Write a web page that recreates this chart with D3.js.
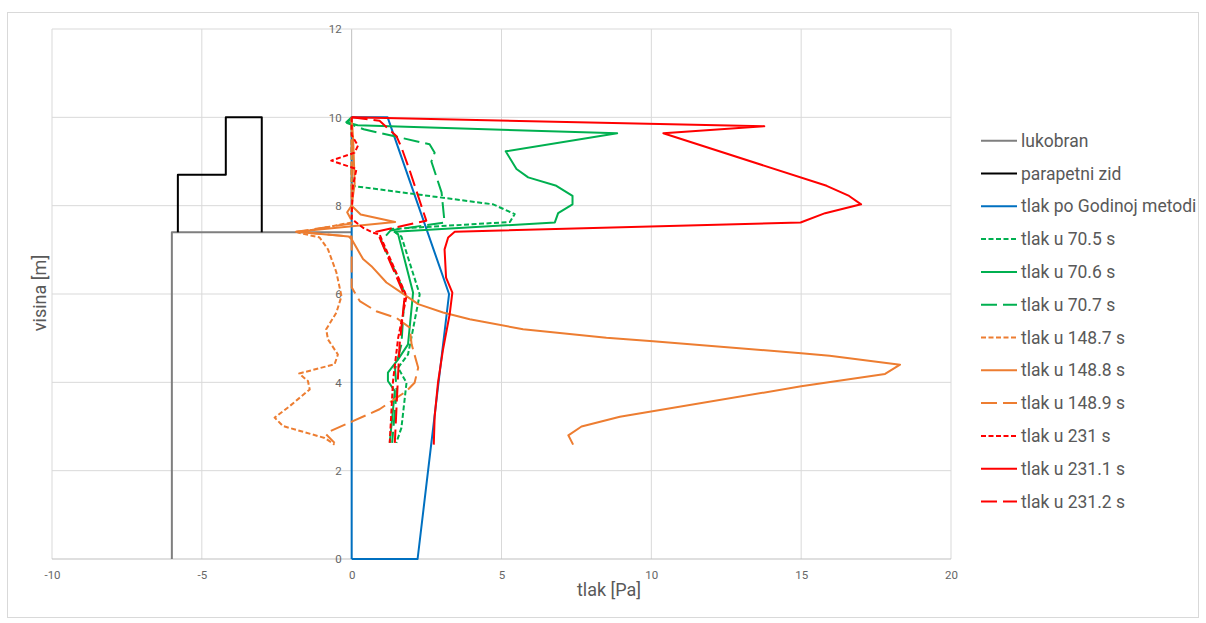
<!DOCTYPE html>
<html>
<head>
<meta charset="utf-8">
<script src="https://cdn.jsdelivr.net/npm/d3@7"></script>
<style>
  body { margin: 0; background: #fff; }
  svg { font-family: Roboto, "Open Sans", sans-serif; }
</style>
</head>
<body>
<svg width="1206" height="623"></svg>
<script>
// values: [tlak, visina]
var lukobran = [[-6, 0], [-6, 7.4], [0, 7.4]];
var parapetniZid = [[-5.8, 7.4], [-5.8, 8.7], [-4.2, 8.7], [-4.2, 10], [-3, 10], [-3, 7.4]];
var godin = [[0, 0], [2.2, 0], [3.25, 6], [1.2, 10], [0, 10], [0, 0]];

var t70_5 = [[0, 10], [0, 8.45], [4.72, 8.03], [5.44, 7.81], [5.28, 7.63], [1.3, 7.47], [1.66, 7.3],
  [2.27, 5.99], [1.99, 5.0], [1.88, 4.63], [1.55, 4.33], [1.83, 3.99], [1.66, 2.97], [1.49, 2.63]];
var t70_6 = [[0, 10], [-0.18, 9.89], [0.2, 9.82], [8.86, 9.64], [5.14, 9.23], [5.5, 8.83], [5.89, 8.64],
  [6.83, 8.45], [7.37, 8.22], [7.37, 8.03], [6.89, 7.83], [6.78, 7.62], [1.44, 7.41], [1.55, 7.35],
  [2.05, 6.03], [1.88, 4.86], [1.55, 4.52], [1.21, 4.22], [1.21, 4.03], [1.44, 3.8], [1.27, 2.63]];
var t70_7 = [[0, 10], [-0.15, 9.87], [0.4, 9.73], [2.6, 9.39], [2.77, 9.2], [2.66, 9.0], [3.0, 8.3],
  [3.1, 7.62], [1.3, 7.44], [0.99, 7.2], [1.77, 6.03], [1.66, 4.86], [1.45, 4.3], [1.5, 3.8], [1.35, 2.63]];

var t148_7 = [[0, 10], [0, 7.62], [-1.79, 7.39], [-1.07, 7.28], [-0.79, 7.01], [-0.51, 6.49], [-0.34, 5.95],
  [-0.51, 5.58], [-0.85, 5.2], [-0.79, 4.97], [-0.46, 4.63], [-0.57, 4.41], [-1.75, 4.2], [-1.46, 4.03],
  [-1.4, 3.84], [-2.07, 3.46], [-2.57, 3.2], [-2.29, 3.01], [-0.9, 2.74], [-0.57, 2.59]];
var t148_8 = [[0, 10], [0.05, 9.5], [0.1, 8.5], [0, 8.0], [0.3, 7.8], [1.45, 7.63], [0.1, 7.54],
  [-1.85, 7.41], [-0.1, 7.3], [0, 7.24], [0.38, 6.79], [0.66, 6.63], [1.16, 6.26], [1.66, 6.03],
  [2.22, 5.77], [3.05, 5.58], [3.94, 5.43], [5.72, 5.2], [8.5, 5.01], [10.06, 4.93], [15.0, 4.66],
  [15.95, 4.6], [18.3, 4.4], [17.8, 4.19], [15.0, 3.91], [8.95, 3.22], [7.67, 3.0], [7.23, 2.8], [7.39, 2.59]];
var t148_9 = [[0, 10], [0, 8.0], [-0.15, 7.85], [0.05, 7.6], [-1.85, 7.41], [0, 7.3], [0, 6.5], [0, 6.15],
  [0.27, 5.84], [0.82, 5.61], [1.49, 5.46], [1.94, 5.24], [2.0, 4.86], [2.22, 4.33], [2.1, 3.99],
  [1.83, 3.8], [0.93, 3.39], [0.04, 3.12], [-0.73, 2.89], [-0.85, 2.82], [-0.57, 2.63]];

var t231 = [[0, 10], [0, 9.6], [0.21, 9.36], [0.1, 9.2], [-0.68, 9.02], [0.16, 8.83], [0.04, 8.45],
  [0, 7.7], [0.38, 7.5], [0.71, 7.39], [0.93, 7.35], [1.83, 5.95], [1.55, 5.0], [1.38, 4.03], [1.27, 2.63]];
var t231_1 = [[0, 10], [13.77, 9.8], [10.4, 9.64], [15.85, 8.45], [16.6, 8.22], [17.0, 8.03], [15.8, 7.83],
  [14.98, 7.62], [3.44, 7.41], [3.22, 7.28], [3.1, 7.01], [3.15, 6.37], [3.36, 6.03], [3.27, 5.54],
  [3.05, 4.75], [2.88, 3.99], [2.77, 3.23], [2.74, 2.59]];
var t231_2 = [[0, 10], [0.93, 9.92], [1.49, 9.58], [1.66, 9.32], [1.94, 8.79], [2.27, 8.11], [2.49, 7.66],
  [0.82, 7.41], [0.93, 7.28], [1.77, 5.95], [1.6, 4.86], [1.55, 4.18], [1.44, 2.63]];

var xTicks = [-10, -5, 0, 5, 10, 15, 20];
var yTicks = [0, 2, 4, 6, 8, 10, 12];

var GREEN = "#00b050", ORANGE = "#ed7d31", RED = "#ff0000";
var DOT = "5,2.5", DASH = "16,6";
var series = [
  { name: "lukobran", data: lukobran, color: "#7f7f7f", dash: null },
  { name: "parapetni zid", data: parapetniZid, color: "#000000", dash: null },
  { name: "tlak po Godinoj metodi", data: godin, color: "#0070c0", dash: null },
  { name: "tlak u 70.5 s", data: t70_5, color: GREEN, dash: DOT },
  { name: "tlak u 70.6 s", data: t70_6, color: GREEN, dash: null },
  { name: "tlak u 70.7 s", data: t70_7, color: GREEN, dash: DASH },
  { name: "tlak u 148.7 s", data: t148_7, color: ORANGE, dash: DOT },
  { name: "tlak u 148.8 s", data: t148_8, color: ORANGE, dash: null },
  { name: "tlak u 148.9 s", data: t148_9, color: ORANGE, dash: DASH },
  { name: "tlak u 231 s", data: t231, color: RED, dash: DOT },
  { name: "tlak u 231.1 s", data: t231_1, color: RED, dash: null },
  { name: "tlak u 231.2 s", data: t231_2, color: RED, dash: DASH }
];

var svg = d3.select("svg");
var plotL = 52, plotR = 951, plotT = 29, plotB = 559;

svg.append("rect")
  .attr("x", 7.5).attr("y", 12.5).attr("width", 1191).attr("height", 605)
  .attr("fill", "none").attr("stroke", "#d9d9d9");

var x = d3.scaleLinear().domain([-10, 20]).range([plotL, plotR]);
var y = d3.scaleLinear().domain([0, 12]).range([plotB, plotT]);

// gridlines
svg.append("g").selectAll("line").data(xTicks).enter().append("line")
  .attr("x1", d => x(d)).attr("x2", d => x(d))
  .attr("y1", plotT).attr("y2", plotB)
  .attr("stroke", d => d === 0 ? "#bfbfbf" : "#d9d9d9").attr("stroke-width", 1);
svg.append("g").selectAll("line").data(yTicks).enter().append("line")
  .attr("x1", plotL).attr("x2", plotR)
  .attr("y1", d => y(d)).attr("y2", d => y(d))
  .attr("stroke", d => d === 0 ? "#bfbfbf" : "#d9d9d9").attr("stroke-width", 1);

// tick labels
var xAxis = svg.append("g").attr("transform", "translate(0," + plotB + ")")
  .call(d3.axisBottom(x).tickValues(xTicks).tickFormat(d => String(d)).tickSize(0).tickPadding(12));
var yAxis = svg.append("g").attr("transform", "translate(" + (x(0) - 1) + ",0)")
  .call(d3.axisLeft(y).tickValues(yTicks).tickFormat(d => String(d)).tickSize(0).tickPadding(9));
[xAxis, yAxis].forEach(function (g) {
  g.select(".domain").remove();
  g.selectAll("text").attr("fill", "#666666").style("font-size", "11.5px")
    .style("font-family", "Roboto, sans-serif");
});

// series
var lineMaker = d3.line().x(d => x(d[0])).y(d => y(d[1]));
svg.append("g").selectAll("path").data(series).enter().append("path")
  .attr("fill", "none")
  .attr("stroke", d => d.color)
  .attr("stroke-width", 2)
  .attr("stroke-linejoin", "round")
  .attr("stroke-dasharray", d => d.dash)
  .attr("d", d => lineMaker(d.data));

// axis titles
svg.append("text").attr("x", 609).attr("y", 596).attr("text-anchor", "middle")
  .attr("fill", "#595959").style("font-size", "18px").text("tlak [Pa]");
svg.append("text").attr("transform", "translate(46,293) rotate(-90)").attr("text-anchor", "middle")
  .attr("fill", "#595959").style("font-size", "18px").text("visina [m]");

// legend
var legend = svg.append("g").selectAll("g").data(series).enter().append("g")
  .attr("transform", (d, i) => "translate(981," + (140.7 + i * 32.8) + ")");
legend.append("line").attr("x1", 0).attr("x2", 36).attr("y1", 0).attr("y2", 0)
  .attr("stroke", d => d.color).attr("stroke-width", 2)
  .attr("stroke-dasharray", d => d.dash);
legend.append("text").attr("x", 40).attr("y", 0).attr("dy", "0.35em")
  .attr("fill", "#595959").style("font-size", "17.5px").text(d => d.name);
</script>
</body>
</html>
